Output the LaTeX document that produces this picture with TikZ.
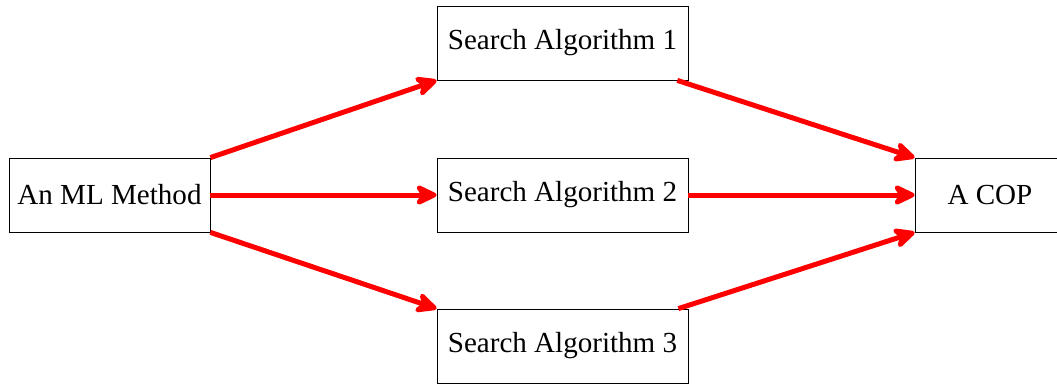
\documentclass[tikz,border=0pt]{standalone}
\usepackage{fontspec}
\setmainfont{Liberation Serif}
\usetikzlibrary{arrows.meta}
\begin{document}
\begin{tikzpicture}[x=0.75pt, y=-0.75pt,
  box/.style={draw, line width=0.6pt, minimum height=55.5pt, inner sep=0pt, font=\fontsize{21.8}{26}\selectfont},
  link/.style={red, line width=3.75pt, -{Stealth[length=20pt, width=19pt, inset=6pt, round]}}]
\useasboundingbox (0,0) rectangle (1057,386);
% method
\node[box, minimum width=150.75pt] (ml) at (109.5,195) {An ML Method};
% search algorithms
\node[box, minimum width=188.25pt] (s1) at (562.5,43) {Search Algorithm 1};
\node[box, minimum width=188.25pt] (s2) at (562.5,195) {Search Algorithm 2};
\node[box, minimum width=188.25pt] (s3) at (562.5,346) {Search Algorithm 3};
% problem
\node[box, minimum width=112.5pt] (cop) at (990,195) {A COP};
% arrows
\draw[link] (ml.north east) -- (s1.south west);
\draw[link] (ml) -- (s2);
\draw[link] (ml.south east) -- (s3.north west);
\draw[link] (s1) -- (cop.north west);
\draw[link] (s2) -- (cop);
\draw[link] (s3) -- (cop.south west);
\end{tikzpicture}
\end{document}
